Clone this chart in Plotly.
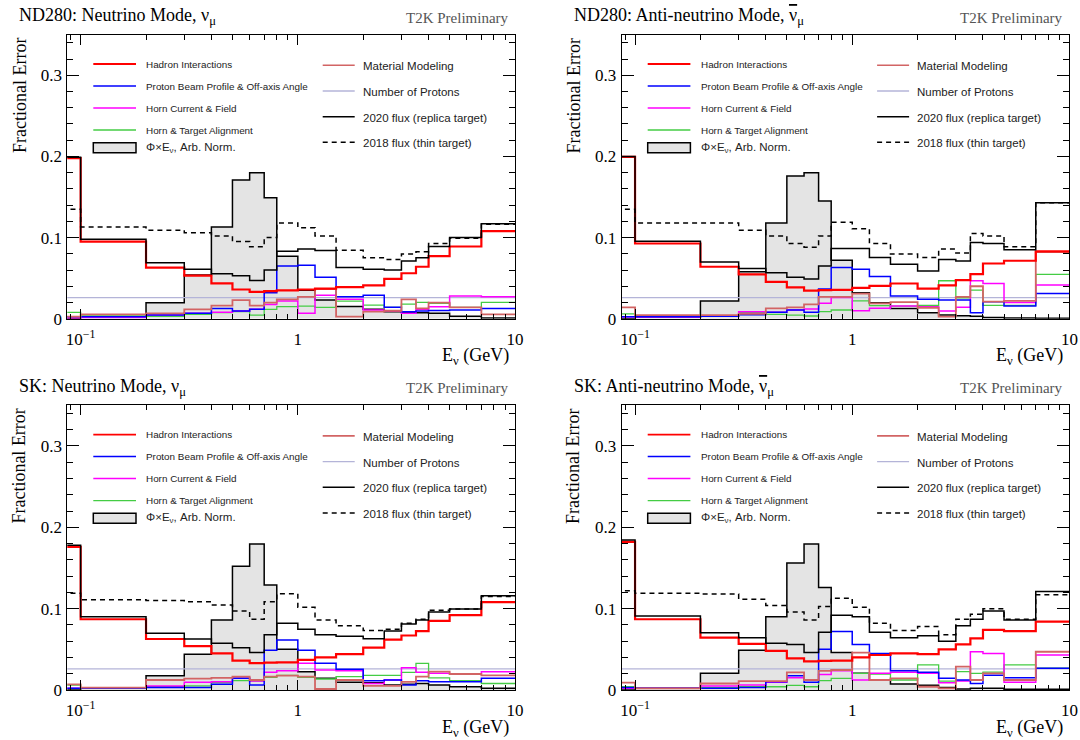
import math
import plotly.graph_objects as go

# ---------------- data ----------------
# bin edges in GeV (first bin really starts at 0; a small positive edge is used for the log axis)
EDGES = [0.01, 0.1, 0.2, 0.3, 0.4, 0.5, 0.6, 0.7, 0.8, 1.0, 1.2, 1.5, 2.0, 2.5, 3.0, 3.5, 4.0, 5.0, 7.0, 10.0]

NUBAR = '<span style="text-decoration:overline">\u03bd</span>'
TITLES = ["ND280: Neutrino Mode, \u03bd<sub>\u03bc</sub>",
          "ND280: Anti-neutrino Mode, " + NUBAR + "<sub>\u03bc</sub>",
          "SK: Neutrino Mode, \u03bd<sub>\u03bc</sub>",
          "SK: Anti-neutrino Mode, " + NUBAR + "<sub>\u03bc</sub>"]

X_TICKVALS = [0.1, 1, 10]
X_TICKTEXT = ["10<sup>\u22121</sup>", "1", "10"]
X_MINOR = [0.09, 0.2, 0.3, 0.4, 0.5, 0.6, 0.7, 0.8, 0.9, 2, 3, 4, 5, 6, 7, 8, 9]
Y_TICKVALS = [0, 0.1, 0.2, 0.3]
Y_TICKTEXT = ["0", "0.1", "0.2", "0.3"]
Y_MINOR = [0.02, 0.04, 0.06, 0.08, 0.12, 0.14, 0.16, 0.18, 0.22, 0.24, 0.26, 0.28, 0.32, 0.34]

# --- ND280 neutrino mode ---
ND_NU_HADRON = [0.198, 0.095, 0.063, 0.053, 0.0435, 0.036, 0.033, 0.034, 0.035, 0.036, 0.037, 0.039, 0.041, 0.049, 0.056, 0.064, 0.077, 0.089, 0.108]
ND_NU_BEAM = [0.0025, 0.0025, 0.0045, 0.0066, 0.0127, 0.0094, 0.0115, 0.032, 0.065, 0.066, 0.051, 0.027, 0.029, 0.014, 0.0086, 0.0095, 0.010, 0.0107, 0.0127]
ND_NU_HORN = [0.001, 0.0016, 0.0045, 0.0066, 0.008, 0.0094, 0.0115, 0.0176, 0.0217, 0.0066, 0.029, 0.024, 0.0107, 0.0094, 0.0066, 0.0115, 0.0148, 0.028, 0.027]
ND_NU_ALIGN = [0.0078, 0.0045, 0.003, 0.0053, 0.0074, 0.0086, 0.0045, 0.0115, 0.0148, 0.0156, 0.014, 0.0217, 0.0168, 0.014, 0.018, 0.020, 0.019, 0.014, 0.020]
ND_NU_MATERIAL = [0.0025, 0.0053, 0.0066, 0.0115, 0.016, 0.023, 0.016, 0.0197, 0.0238, 0.027, 0.0365, 0.0025, 0.0086, 0.0098, 0.0238, 0.0127, 0.0197, 0.014, 0.0053]
ND_NU_PROTONS = [0.026, 0.026, 0.026, 0.026, 0.026, 0.026, 0.026, 0.026, 0.026, 0.026, 0.026, 0.026, 0.026, 0.026, 0.026, 0.026, 0.026, 0.026, 0.026]
ND_NU_TOTAL2020 = [0.199, 0.098, 0.069, 0.061, 0.0555, 0.053, 0.047, 0.060, 0.083, 0.086, 0.084, 0.063, 0.061, 0.060, 0.071, 0.075, 0.089, 0.100, 0.117]
ND_NU_TOTAL2018 = [0.135, 0.113, 0.109, 0.106, 0.102, 0.095, 0.0886, 0.100, 0.118, 0.112, 0.102, 0.0845, 0.075, 0.073, 0.0796, 0.0825, 0.0927, 0.099, 0.1165]
ND_NU_FLUX = [0.0, 0.002, 0.0197, 0.054, 0.113, 0.171, 0.180, 0.149, 0.077, 0.035, 0.023, 0.015, 0.0115, 0.0086, 0.0078, 0.0074, 0.0066, 0.003, 0.001]

# --- ND280 anti-neutrino mode ---
ND_ANU_HADRON = [0.1995, 0.0927, 0.064, 0.0546, 0.0455, 0.0386, 0.0345, 0.0353, 0.0355, 0.038, 0.0405, 0.0434, 0.037, 0.041, 0.0476, 0.055, 0.068, 0.0714, 0.0830]
ND_ANU_BEAM = [0.0025, 0.0025, 0.003, 0.005, 0.008, 0.0107, 0.008, 0.0365, 0.063, 0.061, 0.052, 0.028, 0.024, 0.023, 0.023, 0.0074, 0.021, 0.0156, 0.031]
ND_ANU_HORN = [0.002, 0.002, 0.003, 0.0086, 0.008, 0.0107, 0.012, 0.019, 0.026, 0.0098, 0.013, 0.0156, 0.0148, 0.0094, 0.014, 0.0468, 0.0435, 0.020, 0.0414]
ND_ANU_ALIGN = [0.006, 0.0033, 0.0037, 0.0074, 0.0053, 0.0045, 0.0033, 0.0086, 0.0107, 0.022, 0.016, 0.0156, 0.0164, 0.0468, 0.0258, 0.0353, 0.0164, 0.0164, 0.0546]
ND_ANU_MATERIAL = [0.014, 0.0045, 0.0045, 0.006, 0.0127, 0.014, 0.0176, 0.027, 0.027, 0.031, 0.019, 0.0205, 0.0135, 0.0025, 0.027, 0.040, 0.021, 0.022, 0.082]
ND_ANU_PROTONS = [0.026, 0.026, 0.026, 0.026, 0.026, 0.026, 0.026, 0.026, 0.026, 0.026, 0.026, 0.026, 0.026, 0.026, 0.026, 0.026, 0.026, 0.026, 0.026]
ND_ANU_TOTAL2020 = [0.200, 0.0956, 0.070, 0.062, 0.0566, 0.051, 0.049, 0.065, 0.0866, 0.0866, 0.0755, 0.067, 0.0587, 0.073, 0.071, 0.094, 0.0927, 0.085, 0.143]
ND_ANU_TOTAL2018 = [0.135, 0.118, 0.118, 0.109, 0.102, 0.0927, 0.088, 0.102, 0.119, 0.111, 0.0927, 0.0796, 0.0755, 0.0858, 0.081, 0.105, 0.102, 0.0886, 0.143]
ND_ANU_FLUX = [0.0, 0.002, 0.0217, 0.058, 0.118, 0.176, 0.180, 0.145, 0.072, 0.032, 0.0197, 0.0127, 0.0074, 0.0045, 0.0037, 0.003, 0.0016, 0.001, 0.0005]

# --- SK neutrino mode ---
SK_NU_HADRON = [0.176, 0.087, 0.0627, 0.054, 0.045, 0.036, 0.033, 0.0336, 0.034, 0.037, 0.040, 0.044, 0.052, 0.062, 0.067, 0.0725, 0.085, 0.092, 0.108]
SK_NU_BEAM = [0.002, 0.002, 0.003, 0.003, 0.007, 0.0143, 0.006, 0.049, 0.0615, 0.049, 0.033, 0.0254, 0.0115, 0.0123, 0.006, 0.0115, 0.010, 0.010, 0.0143]
SK_NU_HORN = [0.002, 0.002, 0.005, 0.0094, 0.010, 0.0143, 0.011, 0.0217, 0.0238, 0.033, 0.0246, 0.0238, 0.008, 0.0123, 0.0275, 0.0217, 0.0205, 0.0197, 0.0225]
SK_NU_ALIGN = [0.006, 0.003, 0.004, 0.005, 0.009, 0.0115, 0.011, 0.0156, 0.018, 0.0156, 0.0135, 0.0164, 0.018, 0.018, 0.0217, 0.0328, 0.015, 0.0115, 0.008]
SK_NU_MATERIAL = [0.007, 0.003, 0.0123, 0.014, 0.015, 0.0164, 0.0123, 0.0164, 0.0176, 0.0164, 0.0012, 0.0123, 0.005, 0.005, 0.010, 0.0164, 0.0225, 0.0197, 0.018]
SK_NU_PROTONS = [0.026, 0.026, 0.026, 0.026, 0.026, 0.026, 0.026, 0.026, 0.026, 0.026, 0.026, 0.026, 0.026, 0.026, 0.026, 0.026, 0.026, 0.026, 0.026]
SK_NU_TOTAL2020 = [0.178, 0.090, 0.0697, 0.0627, 0.0574, 0.052, 0.046, 0.068, 0.082, 0.0746, 0.068, 0.066, 0.063, 0.0725, 0.081, 0.086, 0.096, 0.0996, 0.116]
SK_NU_TOTAL2018 = [0.119, 0.111, 0.110, 0.1086, 0.1045, 0.097, 0.087, 0.1086, 0.1184, 0.1016, 0.086, 0.079, 0.073, 0.0746, 0.082, 0.087, 0.098, 0.0996, 0.115]
SK_NU_FLUX = [0.0, 0.002, 0.0176, 0.044, 0.086, 0.152, 0.1795, 0.129, 0.050, 0.0225, 0.0143, 0.0094, 0.009, 0.006, 0.007, 0.008, 0.006, 0.004, 0.002]

# --- SK anti-neutrino mode ---
SK_ANU_HADRON = [0.182, 0.087, 0.0643, 0.0566, 0.048, 0.039, 0.0353, 0.0357, 0.036, 0.040, 0.043, 0.045, 0.044, 0.050, 0.056, 0.0635, 0.0738, 0.0725, 0.084]
SK_ANU_BEAM = [0.003, 0.002, 0.002, 0.003, 0.010, 0.0176, 0.0094, 0.050, 0.072, 0.056, 0.045, 0.0238, 0.0217, 0.0143, 0.0123, 0.008, 0.018, 0.015, 0.0266]
SK_ANU_HORN = [0.002, 0.002, 0.005, 0.006, 0.0094, 0.015, 0.0123, 0.019, 0.0238, 0.0123, 0.0205, 0.0217, 0.0205, 0.009, 0.011, 0.047, 0.045, 0.0094, 0.043]
SK_ANU_ALIGN = [0.004, 0.002, 0.003, 0.004, 0.004, 0.0057, 0.004, 0.0115, 0.0143, 0.0205, 0.0197, 0.0123, 0.031, 0.011, 0.0225, 0.0205, 0.022, 0.031, 0.027]
SK_ANU_MATERIAL = [0.009, 0.002, 0.008, 0.011, 0.011, 0.0217, 0.0123, 0.0235, 0.0246, 0.046, 0.0123, 0.0143, 0.004, 0.002, 0.0287, 0.0123, 0.0205, 0.0123, 0.047]
SK_ANU_PROTONS = [0.026, 0.026, 0.026, 0.026, 0.026, 0.026, 0.026, 0.026, 0.026, 0.026, 0.026, 0.026, 0.026, 0.026, 0.026, 0.026, 0.026, 0.026, 0.026]
SK_ANU_TOTAL2020 = [0.1844, 0.091, 0.0705, 0.0643, 0.0574, 0.056, 0.046, 0.0709, 0.092, 0.090, 0.0709, 0.0643, 0.0668, 0.060, 0.079, 0.087, 0.097, 0.086, 0.121]
SK_ANU_TOTAL2018 = [0.122, 0.119, 0.118, 0.1115, 0.104, 0.096, 0.086, 0.1025, 0.1127, 0.1016, 0.082, 0.073, 0.078, 0.068, 0.087, 0.093, 0.100, 0.087, 0.117]
SK_ANU_FLUX = [0.0, 0.002, 0.0205, 0.049, 0.090, 0.156, 0.1795, 0.126, 0.046, 0.0205, 0.0123, 0.0074, 0.0057, 0.003, 0.0012, 0.002, 0.002, 0.001, 0.001]

LEGEND_LEFT = ["Hadron Interactions", "Proton Beam Profile & Off-axis Angle",
               "Horn Current & Field", "Horn & Target Alignment"]
LEGEND_FLUX = "\u03a6\u00d7E<sub>\u03bd</sub>, Arb. Norm."
LEGEND_RIGHT = ["Material Modeling", "Number of Protons",
                "2020 flux (replica target)", "2018 flux (thin target)"]

# ---------------- styles ----------------
SERIF = "Liberation Serif"
SANS = "Liberation Sans"
W, H = 1080, 740

STYLE = {
    "hadron": dict(color="#ff0000", width=2.2),
    "beam": dict(color="#0000ff", width=1.5),
    "horn": dict(color="#ff00ff", width=1.5),
    "align": dict(color="#44cc44", width=1.3),
    "material": dict(color="#d26464", width=1.8),
    "protons": dict(color="#b4b4d8", width=1.4),
    "total2020": dict(color="#000000", width=1.5),
    "total2018": dict(color="#000000", width=1.5, dash="5px,4px"),
}

PANELS = [
    dict(flux=ND_NU_FLUX, protons=ND_NU_PROTONS, align=ND_NU_ALIGN, horn=ND_NU_HORN, beam=ND_NU_BEAM,
         material=ND_NU_MATERIAL, hadron=ND_NU_HADRON, total2020=ND_NU_TOTAL2020, total2018=ND_NU_TOTAL2018),
    dict(flux=ND_ANU_FLUX, protons=ND_ANU_PROTONS, align=ND_ANU_ALIGN, horn=ND_ANU_HORN, beam=ND_ANU_BEAM,
         material=ND_ANU_MATERIAL, hadron=ND_ANU_HADRON, total2020=ND_ANU_TOTAL2020, total2018=ND_ANU_TOTAL2018),
    dict(flux=SK_NU_FLUX, protons=SK_NU_PROTONS, align=SK_NU_ALIGN, horn=SK_NU_HORN, beam=SK_NU_BEAM,
         material=SK_NU_MATERIAL, hadron=SK_NU_HADRON, total2020=SK_NU_TOTAL2020, total2018=SK_NU_TOTAL2018),
    dict(flux=SK_ANU_FLUX, protons=SK_ANU_PROTONS, align=SK_ANU_ALIGN, horn=SK_ANU_HORN, beam=SK_ANU_BEAM,
         material=SK_ANU_MATERIAL, hadron=SK_ANU_HADRON, total2020=SK_ANU_TOTAL2020, total2018=SK_ANU_TOTAL2018),
]

# plot-area pixel boxes (left, top, right, bottom)
COL_X = [(67.3, 515.0), (621.7, 1069.4)]
ROW_Y = [(34.7, 318.7), (405.3, 690.0)]
# vertical offset of the "E_nu (GeV)" axis title below each row's axis
ROW_XTITLE_OFFSET = [38, 38]


def px(x):
    return x / W


def py(y):
    return 1 - y / H


fig = go.Figure()
annotations = []
shapes = []

for i, p in enumerate(PANELS):
    n = i + 1
    s = "" if n == 1 else str(n)
    xa, ya = "x" + s, "y" + s
    col, row = i % 2, i // 2
    (l, r), (t, b) = COL_X[col], ROW_Y[row]

    # flux shape (filled)
    fig.add_trace(go.Scatter(
        x=EDGES, y=p["flux"] + [p["flux"][-1]], mode="lines",
        line=dict(shape="hv", color="black", width=1.5),
        fill="tozeroy", fillcolor="#e4e4e4",
        xaxis=xa, yaxis=ya, showlegend=False, hoverinfo="skip"))
    for key in ["protons", "align", "horn", "beam", "material", "hadron", "total2020", "total2018"]:
        vals = p[key]
        fig.add_trace(go.Scatter(
            x=EDGES, y=vals + [vals[-1]], mode="lines",
            line=dict(shape="hv", **STYLE[key]),
            xaxis=xa, yaxis=ya, showlegend=False, hoverinfo="skip"))

    axis_common = dict(showline=True, linecolor="black", linewidth=1, mirror="ticks",
                       ticks="inside", tickcolor="black", tickwidth=1,
                       showgrid=False, zeroline=False, automargin=False,
                       tickfont=dict(family=SERIF, size=17, color="black"))
    fig.layout["xaxis" + s] = dict(
        axis_common, type="log", range=[math.log10(0.0868), 1.0],
        domain=[px(l), px(r)], anchor=ya,
        tickvals=X_TICKVALS, ticktext=X_TICKTEXT, ticklen=10, ticklabelstandoff=5,
        minor=dict(tickvals=X_MINOR, ticks="inside", ticklen=5, tickcolor="black", showgrid=False))
    fig.layout["yaxis" + s] = dict(
        axis_common, range=[0, 0.35], domain=[py(b), py(t)], anchor=xa,
        tickvals=Y_TICKVALS, ticktext=Y_TICKTEXT, ticklen=12, ticklabelstandoff=1,
        minor=dict(tickvals=Y_MINOR, ticks="inside", ticklen=6, tickcolor="black", showgrid=False))

    # ---- text around the panel ----
    annotations.append(dict(text=TITLES[i], xref="paper", yref="paper", x=px(l - 50), y=py(t - 18),
                            xanchor="left", yanchor="middle", showarrow=False,
                            font=dict(family=SERIF, size=18, color="black")))
    annotations.append(dict(text="T2K Preliminary", xref="paper", yref="paper", x=px(r - 4), y=py(t - 17),
                            xanchor="right", yanchor="middle", showarrow=False,
                            font=dict(family=SERIF, size=15, color="#555555")))
    annotations.append(dict(text="Fractional Error", xref="paper", yref="paper", x=px(l - 48), y=py(t + 61),
                            xanchor="center", yanchor="middle", textangle=-90, showarrow=False,
                            font=dict(family=SERIF, size=18, color="black")))
    annotations.append(dict(text="E<sub>\u03bd</sub> (GeV)", xref="paper", yref="paper", x=px(r - 4),
                            y=py(b + ROW_XTITLE_OFFSET[row]),
                            xanchor="right", yanchor="middle", showarrow=False,
                            font=dict(family=SERIF, size=18, color="black")))

    # ---- legend (drawn in axis-domain coordinates) ----
    dx, dy = xa + " domain", ya + " domain"
    pw, ph = r - l, b - t
    left_rows = [29.3, 51.3, 73.3, 95.3]
    left_keys = ["hadron", "beam", "horn", "align"]
    for lab, key, yy in zip(LEGEND_LEFT, left_keys, left_rows):
        st = STYLE[key]
        shapes.append(dict(type="line", xref=dx, yref=dy, x0=26 / pw, x1=68.7 / pw,
                           y0=1 - yy / ph, y1=1 - yy / ph,
                           line=dict(color=st["color"], width=min(st["width"], 1.8))))
        annotations.append(dict(text=lab, xref=dx, yref=dy, x=77 / pw, y=1 - yy / ph,
                                xanchor="left", yanchor="middle", showarrow=False,
                                font=dict(family=SANS, size=9.9, color="#222222")))
    shapes.append(dict(type="rect", xref=dx, yref=dy, x0=26 / pw, x1=68.7 / pw,
                       y0=1 - 118 / ph, y1=1 - 108 / ph, fillcolor="#e4e4e4",
                       line=dict(color="black", width=1.5)))
    annotations.append(dict(text=LEGEND_FLUX, xref=dx, yref=dy, x=77 / pw, y=1 - 113 / ph,
                            xanchor="left", yanchor="middle", showarrow=False,
                            font=dict(family=SANS, size=11.5, color="#222222")))
    right_rows = [30.6, 56.3, 82.0, 107.6]
    right_keys = ["material", "protons", "total2020", "total2018"]
    for lab, key, yy in zip(LEGEND_RIGHT, right_keys, right_rows):
        st = STYLE[key]
        shapes.append(dict(type="line", xref=dx, yref=dy, x0=255.4 / pw, x1=287.4 / pw,
                           y0=1 - yy / ph, y1=1 - yy / ph,
                           line=dict(color=st["color"], width=min(st["width"], 1.6),
                                     dash=st.get("dash", "solid"))))
        annotations.append(dict(text=lab, xref=dx, yref=dy, x=293.4 / pw, y=1 - (yy + 1) / ph,
                                xanchor="left", yanchor="middle", showarrow=False,
                                font=dict(family=SANS, size=11.5, color="#222222")))

fig.update_layout(width=W, height=H, autosize=False,
                  margin=dict(l=0, r=0, t=0, b=0, pad=0, autoexpand=False),
                  paper_bgcolor="white", plot_bgcolor="white",
                  annotations=annotations, shapes=shapes, showlegend=False)

fig.write_html("out.html",
               post_script="document.body.style.margin='0';document.body.style.padding='0';"
                           "document.documentElement.style.overflow='hidden';")
